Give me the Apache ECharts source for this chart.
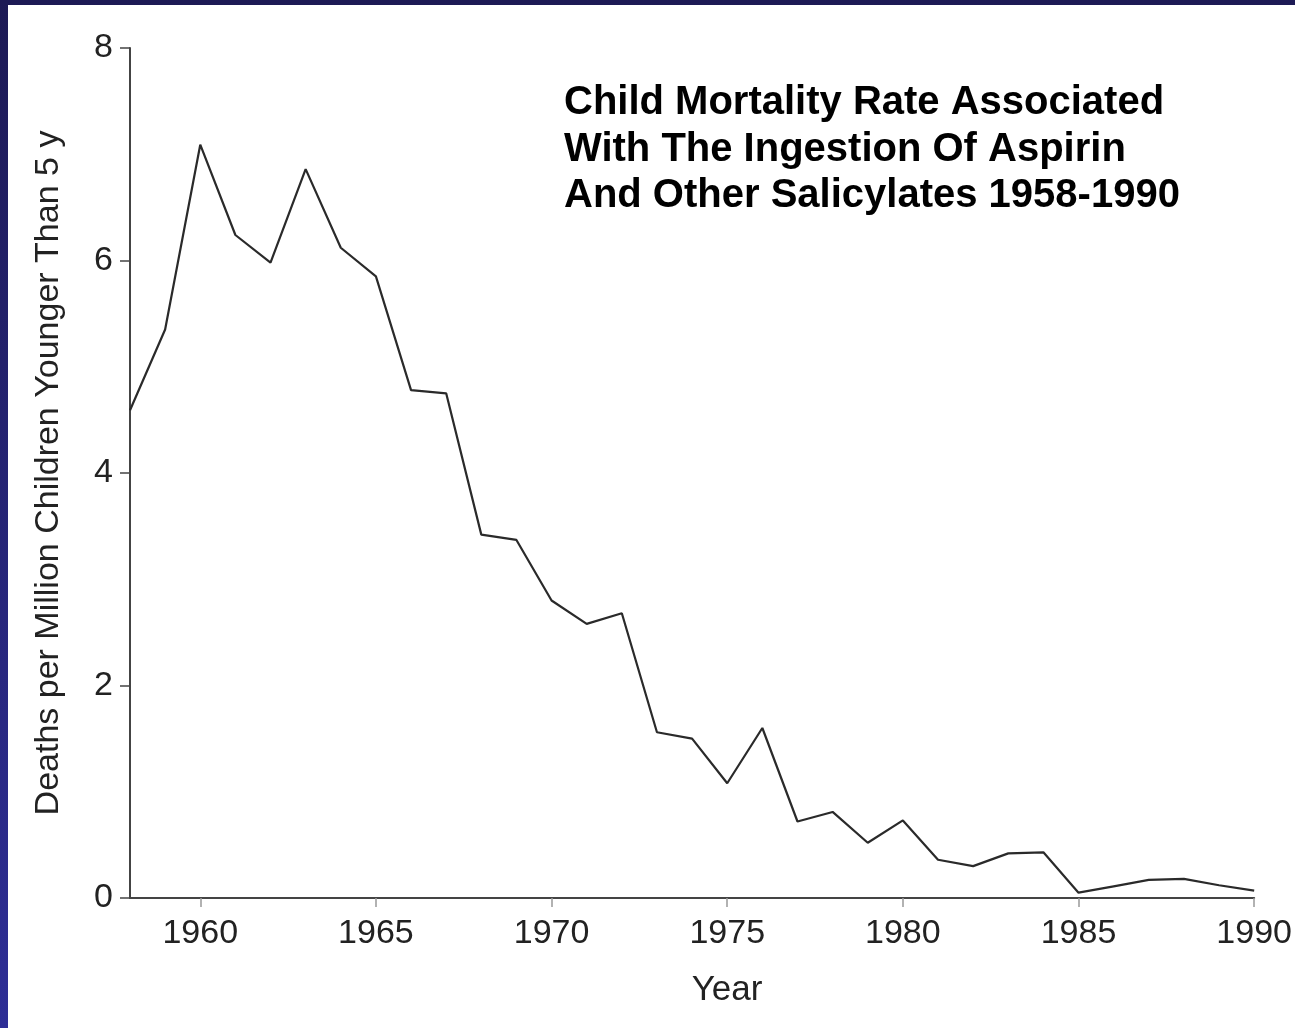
<!DOCTYPE html>
<html>
<head>
<meta charset="utf-8">
<script src="https://cdn.jsdelivr.net/npm/echarts@6/dist/echarts.min.js"></script>
<style>
  html, body { margin: 0; padding: 0; }
  body {
    width: 1295px; height: 1028px; overflow: hidden;
    background: linear-gradient(to bottom, #1d1a55, #2e2e96);
    position: relative;
  }
  #chart {
    position: absolute; left: 8px; top: 5px;
    width: 1287px; height: 1023px; background: #fff;
  }
</style>
</head>
<body>
<div id="chart"></div>
<script>
// deaths per million children younger than 5 y, 1958-1990
const years = ['1958', '1959', '1960', '1961', '1962', '1963', '1964', '1965', '1966', '1967', '1968',
  '1969', '1970', '1971', '1972', '1973', '1974', '1975', '1976', '1977', '1978', '1979', '1980',
  '1981', '1982', '1983', '1984', '1985', '1986', '1987', '1988', '1989', '1990']
const deaths = [4.59, 5.35, 7.09, 6.24, 5.98, 6.86, 6.12, 5.85, 4.78, 4.75, 3.42,
  3.37, 2.8, 2.58, 2.68, 1.56, 1.5, 1.08, 1.6, 0.72, 0.81, 0.52, 0.73,
  0.36, 0.3, 0.42, 0.43, 0.05, 0.11, 0.17, 0.18, 0.12, 0.07]
const yTicks = [0, 2, 4, 6, 8]

const sans = "'Liberation Sans', Arial, sans-serif"

const chart = echarts.init(document.getElementById('chart'))

chart.setOption({
  backgroundColor: '#fff',
  animation: false,
  title: {
    text: 'Child Mortality Rate Associated\nWith The Ingestion Of Aspirin\nAnd Other Salicylates 1958-1990',
    left: 551,
    top: 70,
    textStyle: {
      fontFamily: sans,
      fontWeight: 'bold',
      fontSize: 40,
      lineHeight: 46.5,
      color: '#000'
    }
  },
  grid: {
    left: 122,
    right: 38,
    top: 43,
    bottom: 130
  },
  xAxis: {
    type: 'category',
    data: years,
    boundaryGap: false,
    name: 'Year',
    nameLocation: 'middle',
    nameGap: 75,
    nameTextStyle: { fontFamily: sans, fontSize: 35, color: '#222', padding: [0, 0, 0, 70] },
    axisLine: { lineStyle: { color: '#444', width: 2 } },
    axisTick: {
      length: 9,
      interval: (i, v) => Number(v) % 5 === 0,
      lineStyle: { color: '#999', width: 1.5 }
    },
    axisLabel: {
      interval: (i, v) => Number(v) % 5 === 0,
      fontFamily: sans,
      fontSize: 34,
      color: '#222',
      margin: 19
    },
    splitLine: { show: false }
  },
  yAxis: {
    type: 'value',
    min: yTicks[0],
    max: yTicks[yTicks.length - 1],
    interval: 2,
    name: 'Deaths per Million Children Younger Than 5 y',
    nameLocation: 'middle',
    nameGap: 64,
    nameTextStyle: { fontFamily: sans, fontSize: 34, color: '#222' },
    axisLine: { show: true, lineStyle: { color: '#444', width: 2 } },
    axisTick: { show: true, length: 10, lineStyle: { color: '#444', width: 1.5 } },
    axisLabel: { fontFamily: sans, fontSize: 34, color: '#222', margin: 17 },
    splitLine: { show: false }
  },
  series: [{
    type: 'line',
    data: deaths,
    showSymbol: false,
    symbol: 'none',
    lineStyle: { color: '#2a2a2a', width: 2.2 }
  }]
})
</script>
</body>
</html>
